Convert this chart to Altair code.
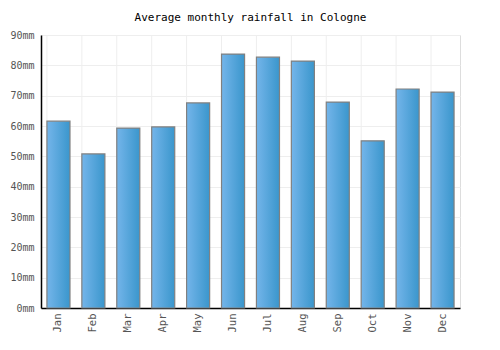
import altair as alt
import pandas as pd

months = ["Jan", "Feb", "Mar", "Apr", "May", "Jun", "Jul", "Aug", "Sep", "Oct", "Nov", "Dec"]
rainfall = [61.6, 50.8, 59.3, 59.7, 67.6, 83.7, 82.7, 81.4, 67.9, 55.1, 72.2, 71.2]

df = pd.DataFrame({"month": months, "rain": rainfall})

FONT = "DejaVu Sans Mono"

x_enc = alt.X("month:N", sort=months, title=None,
              scale=alt.Scale(paddingInner=0.34, paddingOuter=0.17),
              axis=alt.Axis(labelAngle=-90, labelFont=FONT, labelFontSize=10.5,
                            labelColor="#555555", tickSize=0, labelPadding=5,
                            domainColor="#000000", domainWidth=1.5, grid=False))

grid = alt.Chart(df).mark_rule(color="#eeeeee", strokeWidth=1).encode(
    x=alt.X("month:N", sort=months, bandPosition=0,
            scale=alt.Scale(paddingInner=0.34, paddingOuter=0.17))
)

bars = alt.Chart(df).mark_bar(
    stroke="#808080", strokeWidth=1.2,
    color=alt.Gradient(gradient="linear",
                       stops=[alt.GradientStop(color="#74b5ea", offset=0),
                              alt.GradientStop(color="#3a96cc", offset=1)],
                       x1=0, x2=1, y1=0, y2=0)
).encode(
    x=x_enc,
    y=alt.Y("rain:Q", title=None,
            scale=alt.Scale(domain=[0, 90], nice=False),
            axis=alt.Axis(values=list(range(0, 100, 10)), labelExpr="datum.value + 'mm'",
                          labelFont=FONT, labelFontSize=10, labelColor="#555555",
                          tickSize=0, labelPadding=7, gridColor="#eeeeee",
                          domainColor="#000000", domainWidth=1.5))
)

chart = alt.layer(grid, bars).properties(
    width=419, height=273,
    title=alt.TitleParams("Average monthly rainfall in Cologne", font=FONT,
                          fontSize=11, fontWeight="normal", color="#000000", offset=7),
    autosize=alt.AutoSizeParams(type="none"),
    padding={"left": 41, "top": 35, "right": 40, "bottom": 42},
).configure_view(stroke="#eeeeee").configure(background="#ffffff")

chart.save("out.html", embed_options={"renderer": "svg", "actions": False})
